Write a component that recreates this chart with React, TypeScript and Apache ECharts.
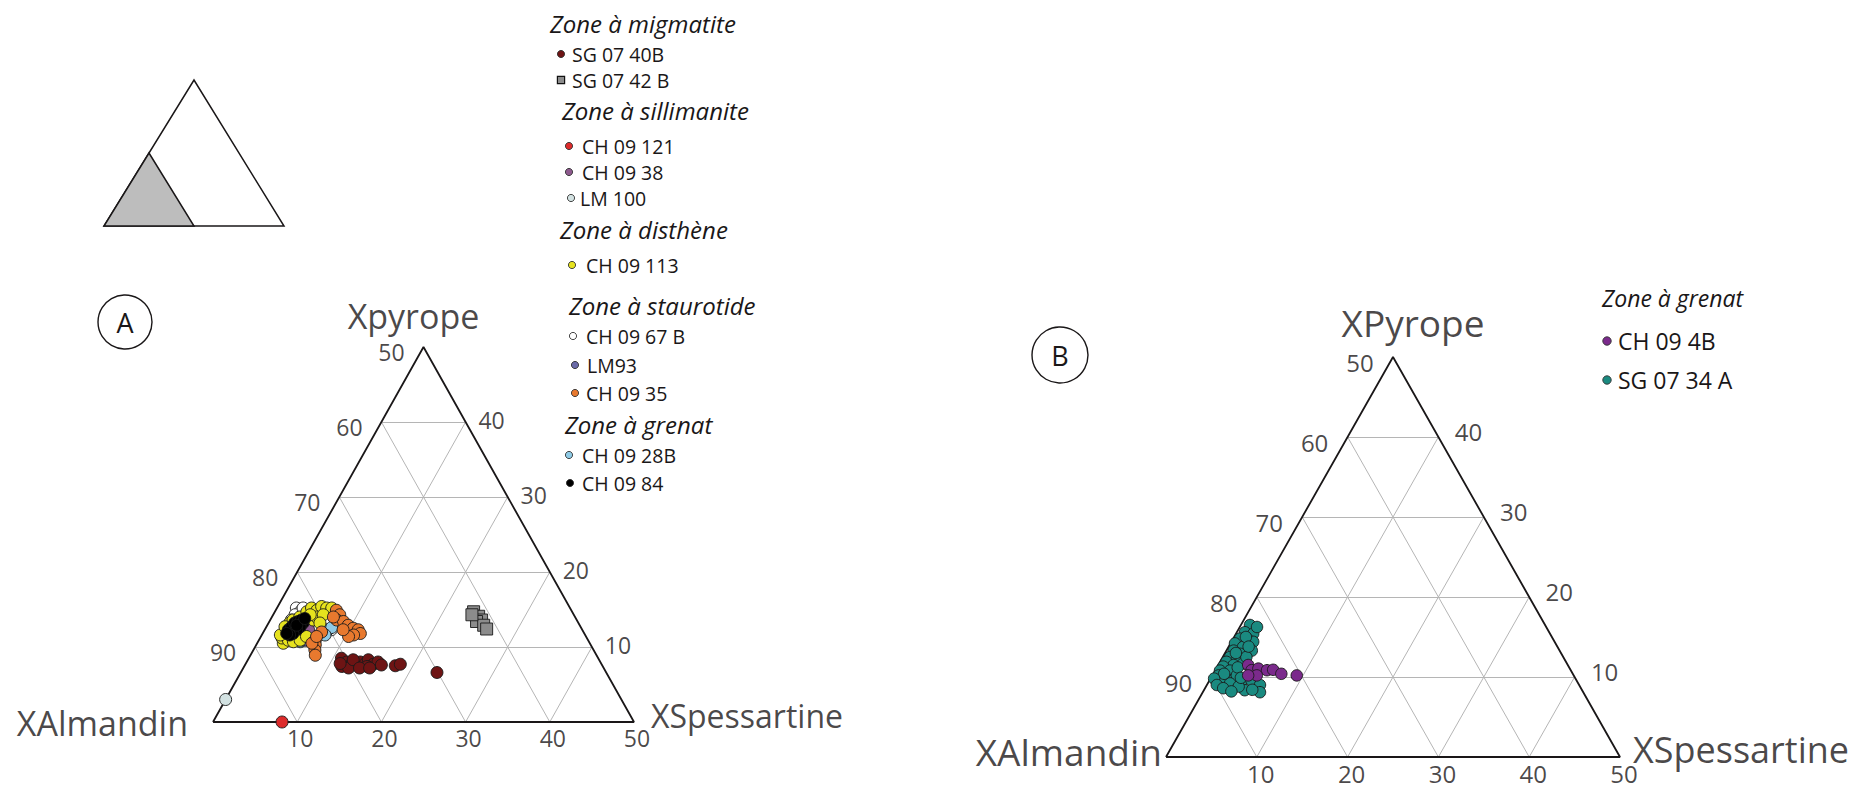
import React, { useEffect, useRef } from "react";
import * as echarts from "echarts";

const FONT = "'Open Sans', Lato, sans-serif";
const INK = "#1a1718";

// Ternary grid values (%), XAlmandin = 100 - XSpessartine - XPyrope
const TICKS = [10, 20, 30, 40];
const EDGE_TICKS = [10, 20, 30, 40, 50];

// Points are [XSpessartine, XPyrope] in %
// Panel A
const SG_07_40B = [[11.0, 8.5], [11.6, 7.4], [11.9, 8.0], [12.6, 7.8], [13.2, 7.7], [13.5, 8.0], [14.2, 7.8], [14.3, 8.3], [15.2, 7.7], [15.6, 8.0], [16.2, 7.6], [12.5, 7.2], [14.6, 7.4], [17.9, 7.5], [18.4, 7.7], [23.3, 6.6], [11.2, 7.8], [12.5, 8.3], [13.8, 7.2], [15.0, 7.2]];
const SG_07_42B = [[23.6, 14.7], [24.5, 14.1], [25.1, 13.6], [24.6, 13.4], [25.7, 12.9], [26.3, 12.4], [23.6, 14.3]];
const CH_09_121 = [[8.2, 0]];
const CH_09_38 = [[4.9, 11.6], [5.2, 12.3]];
const LM_100 = [[0, 3]];
const CH_09_113 = [[3.1, 10.5], [2.6, 11.2], [2.7, 11.8], [2.7, 12.5], [2.5, 13.2], [2.7, 13.6], [3.3, 14.0], [3.8, 14.7], [4.1, 15.2], [4.9, 14.9], [5.2, 15.4], [5.9, 15.2], [6.5, 15.2], [7.3, 14.7], [5.1, 13.6], [5.3, 14.0], [3.5, 10.9], [4.2, 10.7], [5.95, 14.3], [4.4, 14.3], [2.2, 11.6], [2.2, 12.7], [4.9, 10.9], [5.4, 11.4], [6.1, 13.2]];
const CH_09_67B = [[2.3, 15.2], [3.0, 14.7], [2.6, 14.3], [3.1, 15.2], [2.5, 13.6], [7.9, 12.3]];
const LM93 = [[4.5, 10.9], [5.7, 10.9]];
const CH_09_35 = [[6.7, 10.9], [7.0, 10.3], [7.3, 9.6], [7.7, 8.9], [6.5, 10.5], [7.2, 14.9], [7.9, 14.3], [7.9, 13.6], [8.8, 13.4], [9.6, 12.9], [10.4, 12.5], [11.1, 12.3], [11.6, 11.8], [10.9, 11.6], [10.4, 11.4], [9.3, 12.3], [7.3, 14.0], [6.9, 12.0], [6.6, 11.4]];
const CH_09_28B = [[5.0, 10.7], [7.5, 12.3], [7.8, 12.6], [7.5, 11.6], [5.3, 10.9]];
const CH_09_84 = [[2.8, 12.3], [3.0, 12.7], [3.1, 13.2], [3.4, 13.4], [3.7, 13.6], [4.1, 13.2], [4.0, 12.7], [3.8, 12.3], [3.6, 11.8], [3.3, 11.6], [2.85, 11.8], [3.5, 12.9], [4.0, 13.8]];

// Panel B
const SG_07_34A = [[1.0, 16.5], [0.9, 15.6], [1.9, 15.4], [0.75, 14.8], [1.8, 14.6], [2.4, 14.4], [0.5, 14.2], [1.6, 13.75], [2.8, 13.3], [0.8, 13.3], [1.7, 12.9], [0.8, 12.5], [1.7, 12.1], [0.7, 11.9], [1.7, 11.5], [0.65, 11.3], [1.65, 10.8], [0.55, 10.8], [0.7, 10.2], [1.5, 10.0], [2.6, 9.6], [3.6, 9.4], [4.6, 9.6], [5.85, 9.0], [4.5, 8.35], [6.3, 8.1], [1.6, 9.4], [2.7, 10.2], [4.1, 10.6], [1.9, 16.25], [2.65, 11.7], [2.6, 12.5], [2.45, 9.2], [3.6, 8.8], [1.3, 15.0], [2.2, 13.8], [1.2, 13.0], [2.3, 11.2], [1.2, 10.4], [0.4, 9.8], [1.1, 9.0], [2.0, 8.6], [3.1, 8.2], [5.3, 8.4], [3.3, 9.9]];
const CH_09_4B = [[3.3, 11.5], [4.0, 10.85], [4.65, 11.05], [5.7, 10.85], [6.35, 10.9], [7.5, 10.4], [9.3, 10.2], [4.9, 10.2], [3.95, 10.2]];

const SERIES_A = [
  { name: "CH 09 67 B", data: CH_09_67B, color: "#ffffff", symbol: "circle" },
  { name: "CH 09 28B", data: CH_09_28B, color: "#8fcbe6", symbol: "circle" },
  { name: "LM93", data: LM93, color: "#6a6aa8", symbol: "circle" },
  { name: "CH 09 38", data: CH_09_38, color: "#8e5a8e", symbol: "circle" },
  { name: "CH 09 113", data: CH_09_113, color: "#e6e21e", symbol: "circle" },
  { name: "CH 09 35", data: CH_09_35, color: "#e8792e", symbol: "circle" },
  { name: "CH 09 84", data: CH_09_84, color: "#000000", symbol: "circle" },
  { name: "SG 07 40B", data: SG_07_40B, color: "#6e1414", symbol: "circle" },
  { name: "SG 07 42 B", data: SG_07_42B, color: "#8c8c8c", symbol: "rect" },
  { name: "CH 09 121", data: CH_09_121, color: "#dd2b2b", symbol: "circle" },
  { name: "LM 100", data: LM_100, color: "#d3e2e2", symbol: "circle" },
];
const SERIES_B = [
  { name: "SG 07 34 A", data: SG_07_34A, color: "#1a8a80", symbol: "circle" },
  { name: "CH 09 4B", data: CH_09_4B, color: "#7b2a8c", symbol: "circle" },
];

const toXY = ([s, p]: number[]) => [s + p / 2, p];

function labelSeries(gi: number, data: any[], offset: number[], fontSize: number, align = "center") {
  return {
    type: "scatter",
    xAxisIndex: gi,
    yAxisIndex: gi,
    data,
    symbolSize: 1,
    itemStyle: { color: "rgba(0,0,0,0)" },
    silent: true,
    z: 5,
    label: {
      show: true,
      position: "inside",
      formatter: "{b}",
      offset,
      fontSize,
      fontFamily: FONT,
      color: INK,
      align,
      verticalAlign: "middle",
    },
  };
}

function panel(gi: number, series: any[], size: number, lay: any) {
  const gridSegs = TICKS.flatMap((v) => [
    [[0, v], [50 - v, v]],
    [[v, 0], [v, 50 - v]],
    [[v, 0], [0, v]],
  ]).map((seg) => ({ coords: seg.map(toXY) }));
  const corners = [[0, 0], [50, 0], [0, 50], [0, 0]];
  const out: any[] = [
    {
      type: "lines",
      coordinateSystem: "cartesian2d",
      xAxisIndex: gi,
      yAxisIndex: gi,
      data: gridSegs,
      silent: true,
      z: 1,
      lineStyle: { color: "#b5b5b5", width: 1, opacity: 1 },
    },
    {
      type: "line",
      xAxisIndex: gi,
      yAxisIndex: gi,
      data: corners.map(toXY),
      symbol: "none",
      silent: true,
      z: 2,
      lineStyle: { color: INK, width: 1.8 },
    },
  ];
  series.forEach((s) => {
    out.push({
      type: "scatter",
      name: s.name,
      xAxisIndex: gi,
      yAxisIndex: gi,
      data: s.data.map(toXY),
      symbol: s.symbol,
      symbolSize: size,
      z: 3,
      itemStyle: { color: s.color, borderColor: "#1a1a1a", borderWidth: 0.9, opacity: 1 },
    });
  });
  out.push(labelSeries(gi, EDGE_TICKS.map((v) => ({ name: String(100 - v), value: toXY([0, v]) })), lay.left, lay.tick));
  out.push(labelSeries(gi, TICKS.map((v) => ({ name: String(v), value: toXY([50 - v, v]) })), lay.right, lay.tick));
  out.push(labelSeries(gi, EDGE_TICKS.map((v) => ({ name: String(v), value: toXY([v, 0]) })), lay.bottom, lay.tick));
  out.push(labelSeries(gi, [{ name: lay.top, value: toXY([0, 50]) }], lay.topOff, lay.title));
  out.push(labelSeries(gi, [{ name: "XAlmandin", value: toXY([0, 0]) }], lay.almOff, lay.title, "right"));
  out.push(labelSeries(gi, [{ name: "XSpessartine", value: toXY([50, 0]) }], lay.spsOff, lay.titleSps, "left"));
  return out;
}

const LEGEND_A: [string, string, number, number, number][] = [
  ["h", "Zone à migmatite", 550, 0, 23],
  ["i", "SG 07 40B", 561, 572, 54],
  ["i", "SG 07 42 B", 561, 572, 80],
  ["h", "Zone à sillimanite", 562, 0, 110],
  ["i", "CH 09 121", 569, 582, 146],
  ["i", "CH 09 38", 569, 582, 172],
  ["i", "LM 100", 571, 580, 198],
  ["h", "Zone à disthène", 560, 0, 229],
  ["i", "CH 09 113", 572, 586, 265],
  ["h", "Zone à staurotide", 569, 0, 305],
  ["i", "CH 09 67 B", 573, 586, 336],
  ["i", "LM93", 575, 587, 365],
  ["i", "CH 09 35", 575, 586, 393],
  ["h", "Zone à grenat", 565, 0, 424],
  ["i", "CH 09 28B", 569, 582, 455],
  ["i", "CH 09 84", 570, 582, 483],
];
const LEGEND_B: [string, string, number, number, number][] = [
  ["h", "Zone à grenat", 1602, 0, 298],
  ["i", "CH 09 4B", 1607, 1618, 341],
  ["i", "SG 07 34 A", 1607, 1618, 380],
];

function legendGraphics(rows: any[], all: any[], headSize: number, itemSize: number, r: number) {
  const els: any[] = [];
  rows.forEach(([kind, text, mx, tx, y]) => {
    if (kind === "h") {
      els.push({
        type: "text",
        style: { text, x: mx, y, fontSize: headSize, fontStyle: "italic", fontFamily: FONT, fill: INK, align: "left", verticalAlign: "middle", textAlign: "left", textVerticalAlign: "middle" },
      });
    } else {
      const s = all.find((q) => q.name === text);
      if (s.symbol === "rect") {
        els.push({ type: "rect", shape: { x: mx - r, y: y - r, width: 2 * r, height: 2 * r }, style: { fill: s.color, stroke: "#111", lineWidth: 1.2 } });
      } else {
        els.push({ type: "circle", shape: { cx: mx, cy: y, r }, style: { fill: s.color, stroke: "#333", lineWidth: 0.9 } });
      }
      els.push({
        type: "text",
        style: { text, x: tx, y, fontSize: itemSize, fontFamily: FONT, fill: INK, align: "left", verticalAlign: "middle", textAlign: "left", textVerticalAlign: "middle" },
      });
    }
  });
  return els;
}

function buildOption() {
  const layA = { left: [-32, 5], right: [26, -2], bottom: [3, 16], tick: 23, top: "Xpyrope", topOff: [-10, -31], almOff: [-25, 1], spsOff: [17, -7], title: 34, titleSps: 32 };
  const layB = { left: [-33, 5], right: [30, -6], bottom: [4, 16], tick: 24, top: "XPyrope", topOff: [20, -35], almOff: [-4, -6], spsOff: [13, -8], title: 37, titleSps: 36 };
  const graphic: any[] = [
    { type: "polygon", shape: { points: [[104, 226], [284, 226], [194, 80]] }, style: { fill: "#ffffff", stroke: INK, lineWidth: 1.5 } },
    { type: "polygon", shape: { points: [[104, 226], [194, 226], [149, 153]] }, style: { fill: "#bdbdbd", stroke: INK, lineWidth: 1.5 } },
    { type: "circle", shape: { cx: 125, cy: 322, r: 27 }, style: { fill: "none", stroke: INK, lineWidth: 1.4 } },
    { type: "text", style: { text: "A", x: 125, y: 322, fontSize: 27, fontFamily: FONT, fill: INK, align: "center", verticalAlign: "middle", textAlign: "center", textVerticalAlign: "middle" } },
    { type: "circle", shape: { cx: 1060, cy: 355, r: 28 }, style: { fill: "none", stroke: INK, lineWidth: 1.4 } },
    { type: "text", style: { text: "B", x: 1060, y: 355, fontSize: 27, fontFamily: FONT, fill: INK, align: "center", verticalAlign: "middle", textAlign: "center", textVerticalAlign: "middle" } },
    ...legendGraphics(LEGEND_A, SERIES_A, 24, 19.5, 3.6),
    ...legendGraphics(LEGEND_B, SERIES_B, 23, 23, 4.2),
  ];
  return {
    animation: false,
    backgroundColor: "#ffffff",
    grid: [
      { left: 213, top: 347, width: 421, height: 375 },
      { left: 1166, top: 357, width: 454, height: 400 },
    ],
    xAxis: [
      { gridIndex: 0, type: "value", min: 0, max: 50, show: false },
      { gridIndex: 1, type: "value", min: 0, max: 50, show: false },
    ],
    yAxis: [
      { gridIndex: 0, type: "value", min: 0, max: 50, show: false },
      { gridIndex: 1, type: "value", min: 0, max: 50, show: false },
    ],
    series: [...panel(0, SERIES_A, 12, layA), ...panel(1, SERIES_B, 11.5, layB)],
    graphic,
  };
}

export default function App() {
  const ref = useRef<HTMLDivElement>(null);
  useEffect(() => {
    if (!ref.current) return;
    const chart = echarts.init(ref.current, undefined, { renderer: "svg" });
    chart.setOption(buildOption() as any);
    return () => chart.dispose();
  }, []);
  return <div ref={ref} style={{ position: "absolute", left: 0, top: 0, width: 1863, height: 790, background: "#fff" }} />;
}
